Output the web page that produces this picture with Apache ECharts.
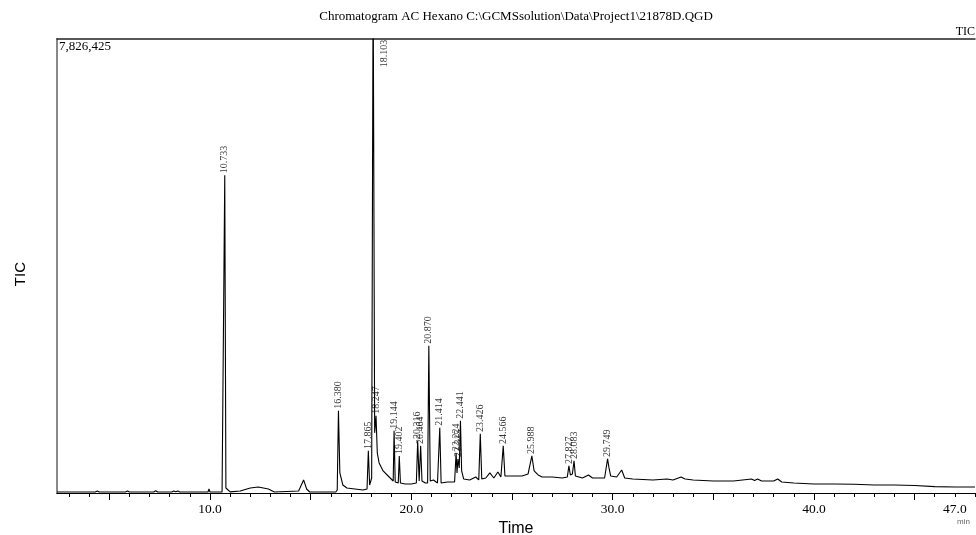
<!DOCTYPE html>
<html>
<head>
<meta charset="utf-8">
<script src="https://cdn.jsdelivr.net/npm/echarts@6/dist/echarts.min.js"></script>
<style>
html,body{margin:0;padding:0;background:#fff;}
#c{width:976px;height:535px;}
</style>
</head>
<body>
<div id="c"></div>
<script>
const chartTitle = 'Chromatogram AC Hexano C:\\GCMSsolution\\Data\\Project1\\21878D.QGD';
const yMaxLabel = '7,826,425';
const yMax = 7826425;
const xMin = 2.4, xMax = 48.0;
const xLabelValues = [10, 20, 30, 40, 47];
const xMinorTicks = [3,4,5,6,7,8,9,10,11,12,13,14,15,16,17,18,19,20,21,22,23,24,25,26,27,28,29,30,31,32,33,34,35,36,37,38,39,40,41,42,43,44,45,46,47,48];
const xMajorTicks = [5,10,15,20,25,30,35,40,45];

// retention time (min), intensity
const ticTrace = [
[2.4,17000],[4.3,17000],[4.4,35000],[4.5,17000],[5.8,17000],[5.9,35000],[6.0,17000],[7.2,17000],[7.3,40000],[7.4,17000],
[8.1,17000],[8.2,35000],[8.3,20000],[8.4,35000],[8.5,17000],[8.95,17000],[9.0,35000],[9.05,17000],[9.9,17000],[9.95,69000],
[10.0,17000],[10.6,17000],[10.68,35000],[10.733,5477000],[10.79,86000],[10.9,52000],[11.0,20000],[11.5,35000],[12.0,86000],
[12.4,104000],[12.9,69000],[13.2,17000],[14.4,35000],[14.65,225000],[14.8,69000],[14.95,17000],[16.25,17000],[16.32,52000],
[16.38,1417000],[16.45,346000],[16.6,138000],[16.8,86000],[17.2,69000],[17.6,52000],[17.8,69000],[17.865,726000],[17.93,138000],
[18.03,259000],[18.103,9000000],[18.18,1037000],[18.247,1330000],[18.31,690000],[18.4,518000],[18.6,380000],[18.9,276000],
[19.1,207000],[19.144,1071000],[19.2,190000],[19.35,173000],[19.402,639000],[19.46,173000],[19.7,156000],[20.0,156000],
[20.25,173000],[20.316,898000],[20.39,207000],[20.464,812000],[20.53,207000],[20.7,173000],[20.81,173000],[20.87,2540000],
[20.94,207000],[21.1,225000],[21.3,173000],[21.414,1123000],[21.48,173000],[21.8,190000],[22.15,190000],[22.224,691000],
[22.27,346000],[22.315,587000],[22.38,432000],[22.441,1244000],[22.5,380000],[22.6,242000],[22.9,225000],[23.2,276000],
[23.35,225000],[23.426,1019000],[23.5,242000],[23.7,259000],[23.9,346000],[24.1,259000],[24.3,363000],[24.45,276000],
[24.566,812000],[24.65,294000],[25.0,294000],[25.5,294000],[25.8,328000],[25.988,639000],[26.1,380000],[26.3,311000],
[26.5,276000],[27.0,276000],[27.5,259000],[27.75,276000],[27.827,467000],[27.9,311000],[28.0,328000],[28.083,553000],
[28.15,294000],[28.5,259000],[28.8,311000],[29.0,259000],[29.6,259000],[29.749,587000],[29.82,432000],[29.9,294000],
[30.2,276000],[30.45,397000],[30.6,259000],[31.0,242000],[32.0,225000],[32.7,242000],[33.0,225000],[33.4,276000],
[33.6,242000],[34.0,225000],[35.0,207000],[36.0,207000],[36.9,242000],[37.05,217000],[37.2,242000],[37.4,207000],
[38.0,207000],[38.2,242000],[38.4,190000],[39.0,173000],[40.0,156000],[41.0,156000],[42.0,150000],[43.0,138000],
[44.0,138000],[45.0,130000],[46.0,110000],[47.0,104000],[48.0,104000]
];

const peakLabels = ['10.733','16.380','17.865','18.103','18.247','19.144','19.402','20.316','20.464','20.870','21.414','22.224','22.315','22.441','23.426','24.566','25.988','27.827','28.083','29.749'];
const peakTimes  = [10.733,16.380,17.865,18.103,18.247,19.144,19.402,20.316,20.464,20.870,21.414,22.224,22.315,22.441,23.426,24.566,25.988,27.827,28.083,29.749];
const peakHeights = [5477000,1417000,726000,7340000,1330000,1071000,639000,898000,812000,2540000,1123000,691000,587000,1244000,1019000,812000,639000,467000,553000,587000];

const serif = '"Liberation Serif","DejaVu Serif",serif';
const sans = '"Liberation Sans",Arial,sans-serif';

const chart = echarts.init(document.getElementById('c'), null, {renderer:'canvas'});

const peakData = peakTimes.map((t, i) => {
  const item = {value:[t, peakHeights[i]], name: peakLabels[i]};
  if (peakLabels[i] === '18.103') {
    item.label = {position:'right', distance:11};
  }
  return item;
});

const baseX = {
  type:'value', min:xMin, max:xMax, position:'bottom',
  splitLine:{show:false}
};

chart.setOption({
  animation:false,
  backgroundColor:'#fff',
  grid:{left:57, right:1, top:39, bottom:42, containLabel:false, outerBoundsMode:'none'},
  xAxis:[
    Object.assign({}, baseX, {
      axisLine:{show:true, onZero:false, lineStyle:{color:'#000', width:1}},
      axisTick:{show:true, customValues:xMinorTicks, length:4, inside:false, lineStyle:{color:'#000'}},
      axisLabel:{show:true, customValues:xLabelValues, formatter:v => Number(v).toFixed(1), fontFamily:serif, fontSize:13.5, color:'#000', margin:9},
      name:'Time', nameLocation:'middle', nameGap:27,
      nameTextStyle:{fontFamily:sans, fontSize:16, color:'#000'}
    }),
    Object.assign({}, baseX, {
      axisLine:{show:false},
      axisTick:{show:true, customValues:xMajorTicks, length:7, lineStyle:{color:'#000'}},
      axisLabel:{show:false}
    }),
    Object.assign({}, baseX, {
      position:'top',
      axisLine:{show:true, onZero:false, lineStyle:{color:'#222', width:1.5}},
      axisTick:{show:false}, axisLabel:{show:false}
    })
  ],
  yAxis:{
    type:'value', min:0, max:yMax,
    axisLine:{show:true, lineStyle:{color:'#888', width:2}},
    axisTick:{show:false}, axisLabel:{show:false}, splitLine:{show:false}
  },
  series:[
    {
      type:'line', data:ticTrace, showSymbol:false, symbol:'none', clip:true,
      lineStyle:{color:'#000', width:1.1}, silent:true
    },
    {
      type:'scatter', data:peakData, symbolSize:0, silent:true, clip:false,
      label:{
        show:true, formatter:p => p.name, position:'top', distance:2, rotate:90,
        align:'left', verticalAlign:'middle',
        fontFamily:serif, fontSize:10, color:'#000'
      }
    }
  ],
  graphic:[
    {type:'text', x:516, y:10, style:{text:chartTitle, font:'13px ' + serif, fill:'#000', textAlign:'center'}},
    {type:'text', right:1, top:26, style:{text:'TIC', font:'12px ' + serif, fill:'#000'}},
    {type:'text', left:59, top:40, style:{text:yMaxLabel, font:'13px ' + serif, fill:'#000'}},
    {type:'text', left:13, top:262, rotation:Math.PI/2, style:{text:'TIC', font:'15px ' + sans, fill:'#000'}},
    {type:'text', left:957, top:518, style:{text:'min', font:'8px ' + sans, fill:'#666'}}
  ]
});
</script>
</body>
</html>
